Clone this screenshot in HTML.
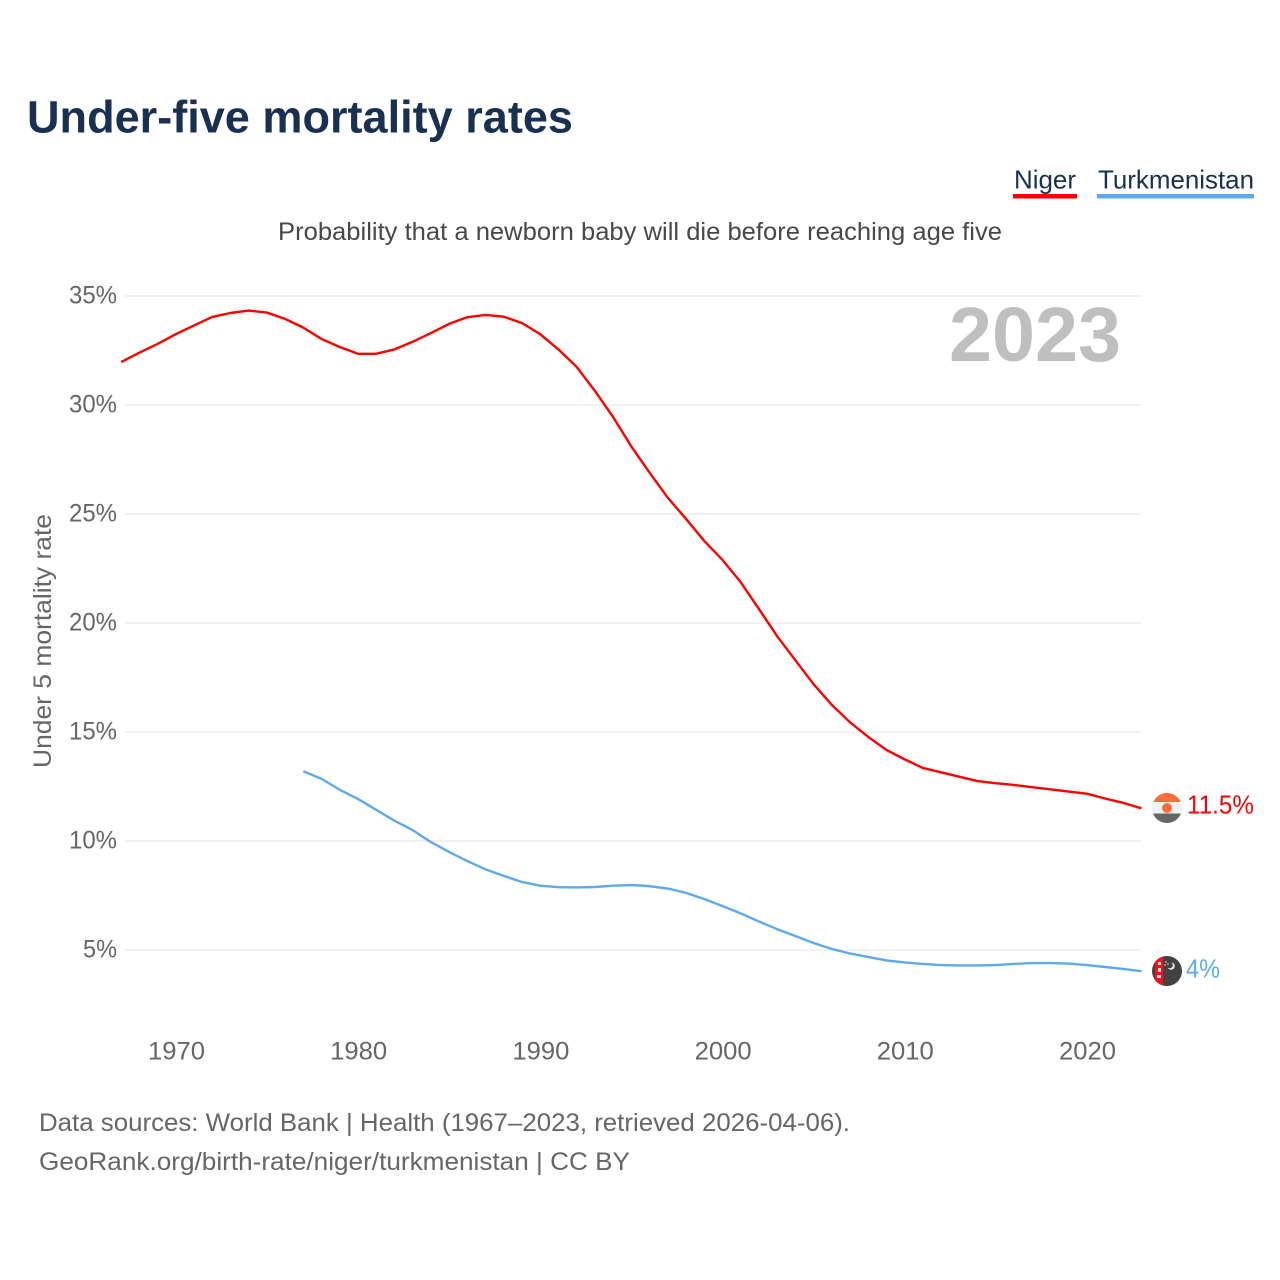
<!DOCTYPE html>
<html lang="en">
<head>
<meta charset="utf-8">
<title>Under-five mortality rates</title>
<style>
html,body{margin:0;padding:0;background:#fff;width:1280px;height:1280px;overflow:hidden}
svg{display:block;font-family:"Liberation Sans",sans-serif}
</style>
</head>
<body>
<svg id="chart" xmlns="http://www.w3.org/2000/svg" width="1280" height="1280" viewBox="0 0 1280 1280">
  <defs>
    <clipPath id="clip-niger"><circle cx="1167" cy="808" r="15"/></clipPath>
    <clipPath id="clip-turkmenistan"><circle cx="1167" cy="971" r="15"/></clipPath>
  </defs>
  <rect width="1280" height="1280" fill="#fff"/>
  <text x="27" y="132.5" font-size="45" font-weight="700" fill="#1a3050" textLength="546" lengthAdjust="spacingAndGlyphs">Under-five mortality rates</text>

  <g>
    <text x="1014" y="188.5" font-size="26" fill="#1a3050" textLength="62" lengthAdjust="spacingAndGlyphs">Niger</text>
    <rect x="1013" y="194" width="64" height="4.5" fill="#ff0000"/>
  </g>
  <g>
    <text x="1098" y="188.5" font-size="26" fill="#1a3050" textLength="156" lengthAdjust="spacingAndGlyphs">Turkmenistan</text>
    <rect x="1097" y="194" width="157" height="4.5" fill="#5ea9ee"/>
  </g>

  <text x="278" y="240" font-size="25" fill="#484848" textLength="724" lengthAdjust="spacingAndGlyphs">Probability that a newborn baby will die before reaching age five</text>
  <text x="949" y="361" font-size="77" font-weight="700" fill="#bfbfbf" textLength="172" lengthAdjust="spacingAndGlyphs">2023</text>
  <text transform="translate(51 768) rotate(-90)" font-size="25" fill="#666" textLength="254" lengthAdjust="spacingAndGlyphs">Under 5 mortality rate</text>

  <g id="grid"></g>
  <g id="y-ticks"></g>
  <g id="x-ticks"></g>
  <g id="series"></g>

  <g clip-path="url(#clip-niger)">
    <rect x="1152" y="793" width="30" height="9" fill="#ff6a3f"/>
    <rect x="1152" y="802" width="30" height="11.5" fill="#f2f2f2"/>
    <rect x="1152" y="813.5" width="30" height="10" fill="#666"/>
    <circle cx="1167" cy="808" r="5" fill="#ff6a3f"/>
  </g>
  <g clip-path="url(#clip-turkmenistan)">
    <rect x="1152" y="956" width="30" height="30" fill="#444240"/>
    <rect x="1155" y="956" width="8" height="30" fill="#f01020"/>
    <rect x="1158" y="962" width="3" height="3" fill="#f5d0d0"/>
    <rect x="1158" y="968" width="3" height="4" fill="#f5d0d0"/>
    <rect x="1157" y="975" width="4" height="3" fill="#f5d0d0"/>
    <circle cx="1171" cy="966" r="3.8" fill="#e8e8e8"/>
    <circle cx="1169.5" cy="965" r="3.3" fill="#444240"/>
    <circle cx="1166" cy="962" r="0.8" fill="#ddd"/>
    <circle cx="1165" cy="965" r="0.8" fill="#ddd"/>
    <circle cx="1168" cy="964" r="0.8" fill="#ddd"/>
  </g>
  <text x="1187" y="813.5" font-size="25.5" fill="#ff0000" textLength="67" lengthAdjust="spacingAndGlyphs">11.5%</text>
  <text x="1186" y="977.5" font-size="25.5" fill="#5ea9ee" textLength="34" lengthAdjust="spacingAndGlyphs">4%</text>

  <text x="39" y="1131" font-size="25" fill="#666" textLength="811" lengthAdjust="spacingAndGlyphs">Data sources: World Bank | Health (1967–2023, retrieved 2026-04-06).</text>
  <text x="39" y="1170" font-size="25" fill="#666" textLength="591" lengthAdjust="spacingAndGlyphs">GeoRank.org/birth-rate/niger/turkmenistan | CC BY</text>
</svg>
<script>
const nigerStartYear = 1967;
const nigerValues = [31.97,32.4,32.8,33.25,33.65,34.04,34.22,34.33,34.24,33.95,33.55,33.03,32.66,32.35,32.35,32.55,32.9,33.3,33.72,34.03,34.13,34.05,33.76,33.25,32.55,31.75,30.65,29.45,28.1,26.9,25.75,24.78,23.77,22.9,21.88,20.65,19.4,18.3,17.2,16.25,15.45,14.78,14.18,13.75,13.35,13.15,12.95,12.75,12.65,12.57,12.47,12.37,12.27,12.17,11.95,11.75,11.5];
const turkmenistanStartYear = 1977;
const turkmenistanValues = [13.2,12.85,12.35,11.93,11.43,10.93,10.5,9.95,9.5,9.08,8.7,8.4,8.12,7.95,7.88,7.87,7.89,7.95,7.98,7.93,7.82,7.62,7.34,7.02,6.68,6.31,5.96,5.64,5.32,5.05,4.84,4.68,4.52,4.43,4.36,4.31,4.29,4.29,4.31,4.36,4.4,4.4,4.38,4.31,4.22,4.13,4.03];
const yTickValues = [5,10,15,20,25,30,35];
const yTickLabels = ["5%","10%","15%","20%","25%","30%","35%"];
const xTickValues = [1970,1980,1990,2000,2010,2020];
const xTickLabels = ["1970","1980","1990","2000","2010","2020"];

const NS = "http://www.w3.org/2000/svg";
function xScale(year){ return 175.8 + (year - 1970) * 18.22; }
function yScale(pct){ return 950 - (pct - 5) * 21.8; }

const gridGroup = document.getElementById("grid");
const yTickGroup = document.getElementById("y-ticks");
const xTickGroup = document.getElementById("x-ticks");
const seriesGroup = document.getElementById("series");

yTickValues.forEach(function(v, i){
  const line = document.createElementNS(NS, "line");
  
  
  line.setAttribute("x1", 125);
  line.setAttribute("x2", 1141);
  line.setAttribute("y1", yScale(v));
  line.setAttribute("y2", yScale(v));
  line.setAttribute("stroke", "#f1f1f1");
  line.setAttribute("stroke-width", 2);
  gridGroup.appendChild(line);

  const label = document.createElementNS(NS, "text");
  
  
  label.setAttribute("x", 117);
  label.setAttribute("y", yScale(v) + 7.5);
  label.setAttribute("text-anchor", "end");
  label.setAttribute("font-size", 25);
  label.setAttribute("fill", "#666");
  label.setAttribute("textLength", yTickLabels[i].length === 2 ? 34 : 48);
  label.setAttribute("lengthAdjust", "spacingAndGlyphs");
  label.textContent = yTickLabels[i];
  yTickGroup.appendChild(label);
});

xTickValues.forEach(function(v, i){
  const label = document.createElementNS(NS, "text");
  
  
  label.setAttribute("x", xScale(v) + 0.7);
  label.setAttribute("y", 1059.5);
  label.setAttribute("text-anchor", "middle");
  label.setAttribute("font-size", 25);
  label.setAttribute("fill", "#666");
  label.setAttribute("textLength", 57);
  label.setAttribute("lengthAdjust", "spacingAndGlyphs");
  label.textContent = xTickLabels[i];
  xTickGroup.appendChild(label);
});

function pathFor(values, startYear){
  return values.map(function(v, i){
    return (i ? "L" : "M") + xScale(startYear + i).toFixed(2) + " " + yScale(v).toFixed(2);
  }).join(" ");
}

const nigerLine = document.createElementNS(NS, "path");


nigerLine.setAttribute("d", pathFor(nigerValues, nigerStartYear));
nigerLine.setAttribute("fill", "none");
nigerLine.setAttribute("stroke", "#ff0000");
nigerLine.setAttribute("stroke-width", 2.4);
nigerLine.setAttribute("stroke-linejoin", "round");
seriesGroup.appendChild(nigerLine);

const turkmenistanLine = document.createElementNS(NS, "path");


turkmenistanLine.setAttribute("d", pathFor(turkmenistanValues, turkmenistanStartYear));
turkmenistanLine.setAttribute("fill", "none");
turkmenistanLine.setAttribute("stroke", "#5ea9ee");
turkmenistanLine.setAttribute("stroke-width", 2.4);
turkmenistanLine.setAttribute("stroke-linejoin", "round");
seriesGroup.appendChild(turkmenistanLine);
</script>
</body>
</html>
